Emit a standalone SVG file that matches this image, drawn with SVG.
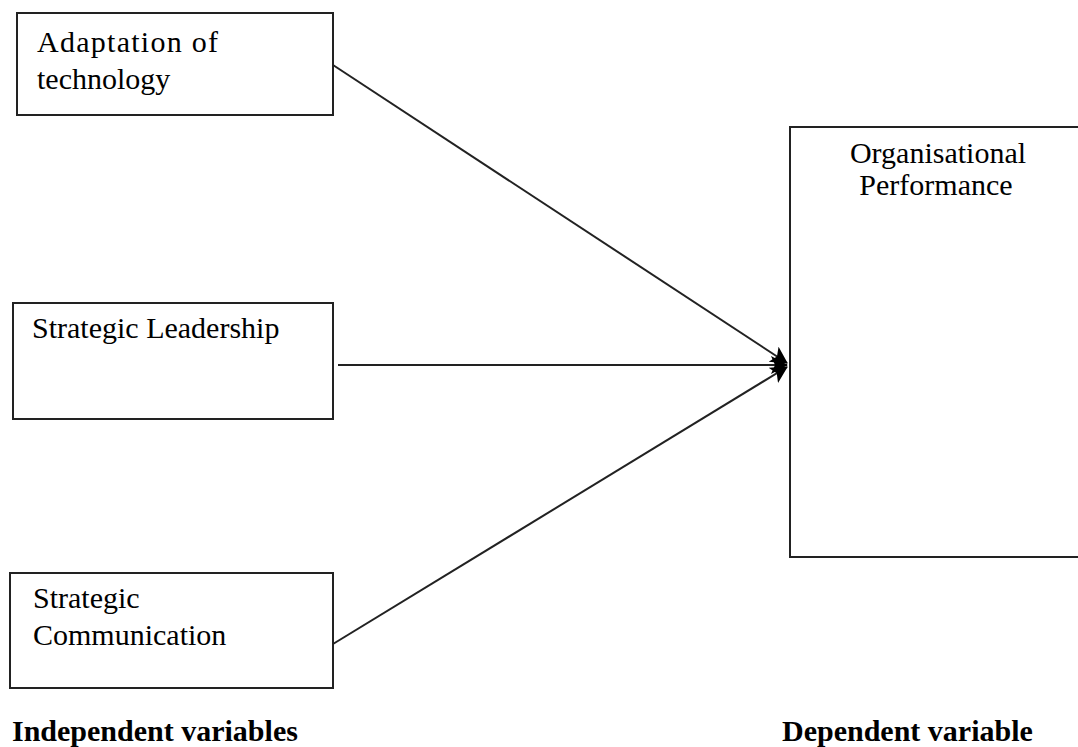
<svg xmlns="http://www.w3.org/2000/svg" width="1078" height="747" viewBox="0 0 1078 747">
<style>
.box{fill:#fff;stroke:#222;stroke-width:2}
.t{font-family:"Liberation Serif","Times New Roman",serif;font-size:30px;fill:#000}
.b{font-family:"Liberation Serif","Times New Roman",serif;font-size:30px;font-weight:bold;fill:#000}
.c{stroke:#222;stroke-width:2;fill:none;marker-end:url(#ah)}
</style>
<defs>
<marker id="ah" markerUnits="userSpaceOnUse" markerWidth="20" markerHeight="20" refX="16" refY="9" orient="auto">
<path d="M0,0 L17,9 L0,18 L4,9 Z" fill="#000"/>
</marker>
</defs>
<rect width="1078" height="747" fill="#fff"/>
<g id="connectors">
<line class="c" x1="333" y1="65" x2="787" y2="363"/>
<line class="c" x1="338" y1="365" x2="787" y2="365"/>
<line class="c" x1="333" y1="644" x2="787" y2="367"/>
</g>
<g id="node-adaptation">
<rect class="box" x="17" y="13" width="316" height="102"/>
<text class="t" x="37" y="52" textLength="181">Adaptation of</text>
<text class="t" x="37" y="89">technology</text>
</g>
<g id="node-leadership">
<rect class="box" x="13" y="303" width="320" height="116"/>
<text class="t" x="32" y="338">Strategic Leadership</text>
</g>
<g id="node-communication">
<rect class="box" x="10" y="573" width="323" height="115"/>
<text class="t" x="33" y="608">Strategic</text>
<text class="t" x="33" y="645">Communication</text>
</g>
<g id="node-performance">
<rect class="box" x="790" y="127" width="300" height="430"/>
<text class="t" x="938" y="163" text-anchor="middle">Organisational</text>
<text class="t" x="936" y="195" text-anchor="middle">Performance</text>
</g>
<g id="labels">
<text class="b" x="12" y="741">Independent variables</text>
<text class="b" x="782" y="741">Dependent variable</text>
</g>
</svg>
